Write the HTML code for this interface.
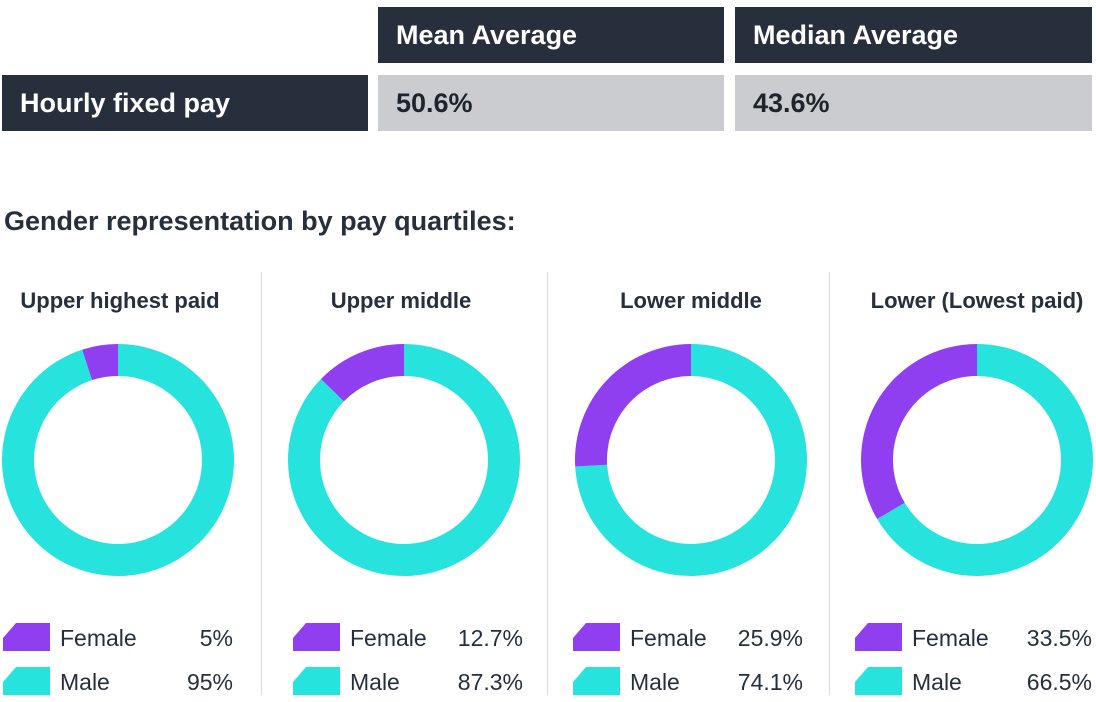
<!DOCTYPE html>
<html><head><meta charset="utf-8"><style>
body{margin:0;width:1096px;height:702px;background:#fff;font-family:"Liberation Sans","DejaVu Sans",sans-serif;color:#262f3b;position:relative;overflow:hidden}
.box{position:absolute;box-sizing:border-box;font-weight:bold;font-size:27px;padding-left:18px;display:flex;align-items:center}
.dark{background:#262f3b;color:#fff}
.gray{background:#cbccd0;color:#1e242c}
.t{position:absolute;font-weight:bold}
.div{position:absolute;top:272px;width:1px;height:423px;background:#dcdcdc}
</style></head><body>
<div class="box dark" style="left:378px;top:7px;width:346px;height:56px">Mean Average</div>
<div class="box dark" style="left:735px;top:7px;width:357px;height:56px">Median Average</div>
<div class="box dark" style="left:2px;top:75px;width:366px;height:56px">Hourly fixed pay</div>
<div class="box gray" style="left:378px;top:75px;width:346px;height:56px">50.6%</div>
<div class="box gray" style="left:735px;top:75px;width:357px;height:56px">43.6%</div>
<div class="t" style="left:4px;top:206px;font-size:27px">Gender representation by pay quartiles:</div>
<div class="div" style="left:261px"></div>
<div class="div" style="left:547px"></div>
<div class="div" style="left:829px"></div>
<svg id="chart" width="1096" height="702" style="position:absolute;left:0;top:0"></svg>
<script>
const quartiles=["Upper highest paid","Upper middle","Lower middle","Lower (Lowest paid)"];
const femaleValues=[5,12.7,25.9,33.5];
const maleValues=[95,87.3,74.1,66.5];
const femaleLabels=["5%","12.7%","25.9%","33.5%"];
const maleLabels=["95%","87.3%","74.1%","66.5%"];
const cx=[118,404,691,977],titleX=[120,401,691,977],iconX=[3,293,573,855],valR=[233,523,803,1092];
const NS="http://www.w3.org/2000/svg",svg=document.getElementById('chart');
const P="#8f3ff0",T="#27e3dd",R=116,r=84,cy=460;
function mk(t,a){const e=document.createElementNS(NS,t);for(const k in a)e.setAttribute(k,a[k]);svg.appendChild(e);return e;}
function pt(rad,ang){return [rad*Math.sin(ang),-rad*Math.cos(ang)];}
function arc(x,a0,a1,col){
 const big=(a1-a0)>Math.PI?1:0;
 const [x1,y1]=pt(R,a0),[x2,y2]=pt(R,a1),[x3,y3]=pt(r,a1),[x4,y4]=pt(r,a0);
 return mk('path',{d:`M${x+x1} ${cy+y1}A${R} ${R} 0 ${big} 1 ${x+x2} ${cy+y2}L${x+x3} ${cy+y3}A${r} ${r} 0 ${big} 0 ${x+x4} ${cy+y4}Z`,fill:col});
}
function icon(x,y,col){return mk('polygon',{points:`${x},${y+28} ${x},${y+15} ${x+13},${y} ${x+47},${y} ${x+47},${y+28}`,fill:col});}
function txt(x,y,s,anchor,size,w){const e=mk('text',{x:x,y:y,'text-anchor':anchor,'font-size':size,'font-weight':w,fill:'#262f3b','font-family':'Liberation Sans, DejaVu Sans, sans-serif'});e.textContent=s;return e;}
quartiles.forEach((q,i)=>{
 const total=femaleValues[i]+maleValues[i];
 const fa=femaleValues[i]/total*2*Math.PI;
 let e=txt(titleX[i],308,q,'middle',22,'bold');
 
 e=arc(cx[i],0,2*Math.PI-fa,T);
 
 e=arc(cx[i],2*Math.PI-fa,2*Math.PI-0.0001,P);
 
 e=icon(iconX[i],623,P);
 e=icon(iconX[i],667,T);
 e=txt(iconX[i]+57,646,'Female','start',23,'normal');
 e=txt(iconX[i]+57,690,'Male','start',23,'normal');
 e=txt(valR[i],646,femaleLabels[i],'end',23,'normal');
 e=txt(valR[i],690,maleLabels[i],'end',23,'normal');
});
</script>
</body></html>
